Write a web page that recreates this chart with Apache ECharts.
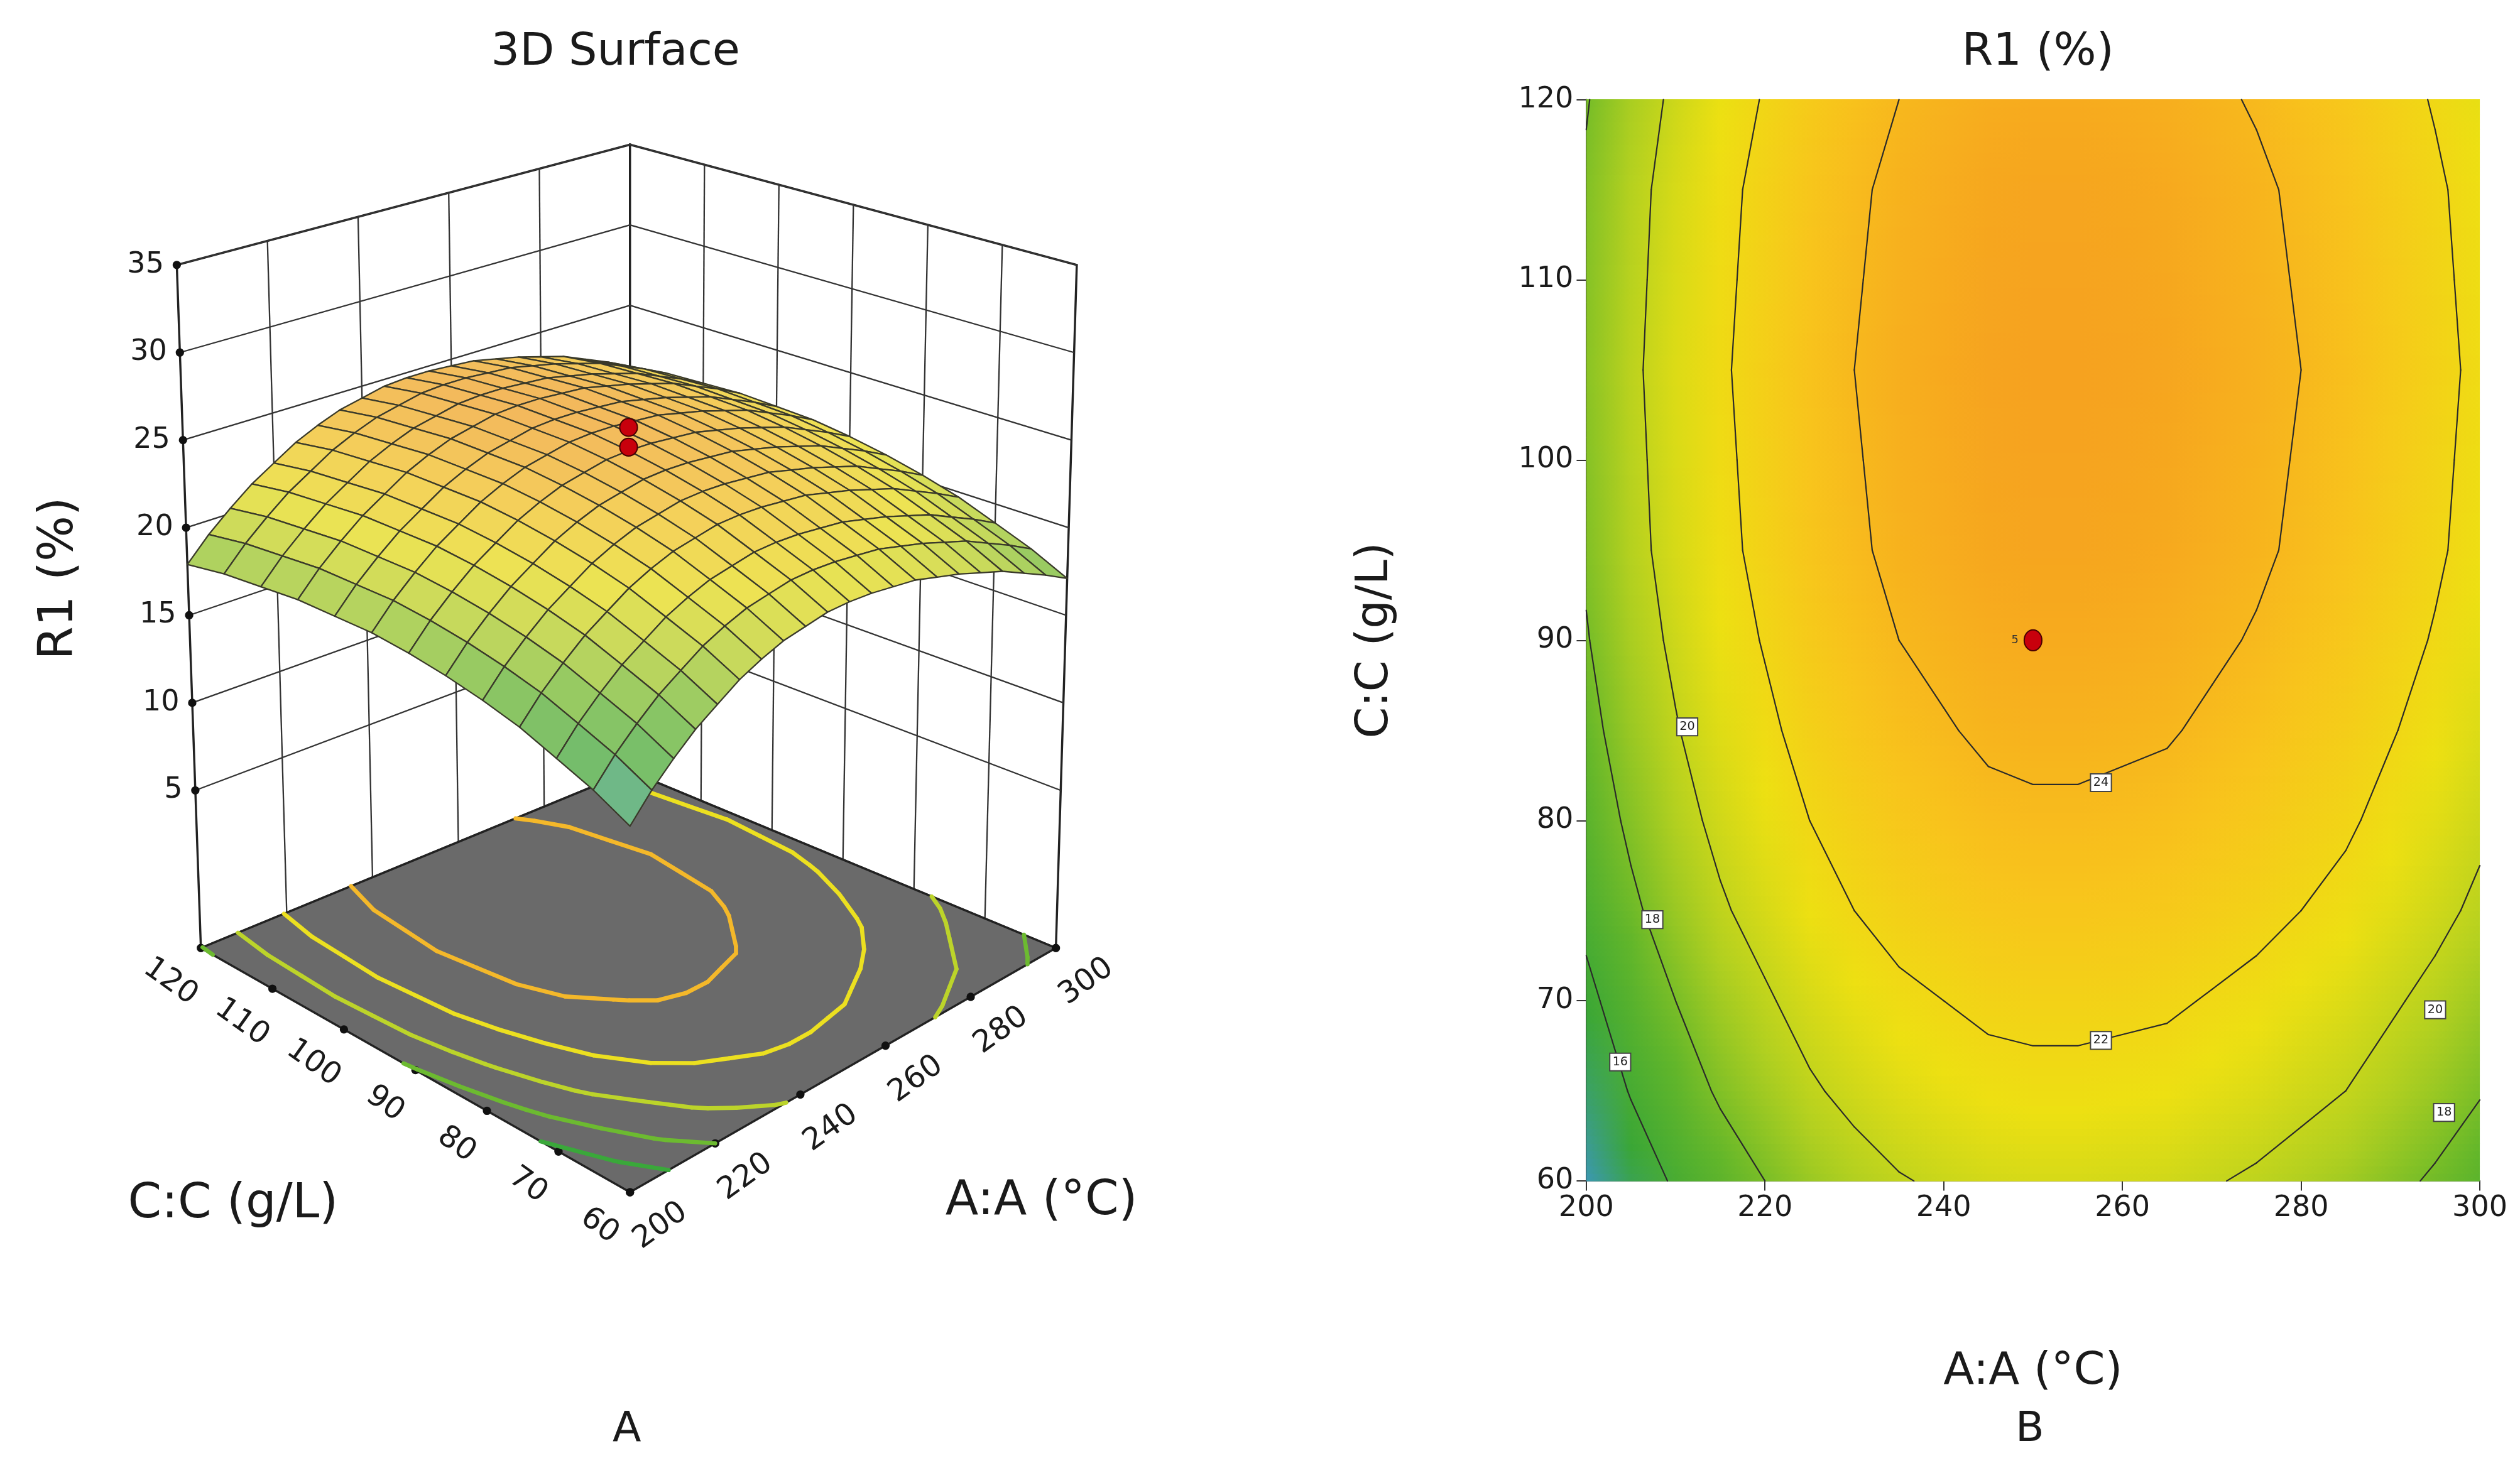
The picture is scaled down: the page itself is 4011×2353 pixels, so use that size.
<!DOCTYPE html><html><head><meta charset="utf-8">
<script src="https://cdn.jsdelivr.net/npm/echarts@6/dist/echarts.min.js"></script>
<style>html,body{margin:0;background:#fff}#c{width:4011px;height:2353px}</style></head>
<body><div id="c"></div><script>
// ---- data ----
const A_VALUES=[200,205,210,215,220,225,230,235,240,245,250,255,260,265,270,275,280,285,290,295,300];
const C_VALUES=[60,65,70,75,80,85,90,95,100,105,110,115,120];
const R1_ROWS=[
[13.8,15.1,16.2,17.2,18.0,18.8,19.4,19.9,20.2,20.5,20.6,20.6,20.5,20.4,20.1,19.8,19.4,19.0,18.4,17.8,17.1],
[14.8,16.1,17.2,18.2,19.0,19.8,20.4,20.9,21.2,21.5,21.6,21.6,21.5,21.4,21.1,20.8,20.4,20.0,19.4,18.8,18.1],
[15.6,16.9,18.0,19.0,19.8,20.6,21.2,21.7,22.0,22.3,22.4,22.4,22.3,22.2,21.9,21.6,21.2,20.8,20.2,19.6,18.9],
[16.4,17.7,18.8,19.8,20.6,21.4,22.0,22.5,22.8,23.1,23.2,23.2,23.1,23.0,22.7,22.4,22.0,21.6,21.0,20.4,19.7],
[17.0,18.3,19.4,20.4,21.2,22.0,22.6,23.1,23.4,23.7,23.8,23.8,23.7,23.6,23.3,23.0,22.6,22.2,21.6,21.0,20.3],
[17.5,18.8,19.9,20.9,21.7,22.5,23.1,23.6,23.9,24.2,24.3,24.3,24.2,24.1,23.8,23.5,23.1,22.7,22.1,21.5,20.8],
[17.9,19.2,20.3,21.3,22.1,22.9,23.5,24.0,24.3,24.6,24.7,24.7,24.6,24.5,24.2,23.9,23.5,23.1,22.5,21.9,21.2],
[18.2,19.5,20.6,21.6,22.4,23.2,23.8,24.3,24.6,24.9,25.0,25.0,24.9,24.8,24.5,24.2,23.8,23.4,22.8,22.2,21.5],
[18.3,19.6,20.7,21.7,22.5,23.3,23.9,24.4,24.7,25.0,25.1,25.1,25.0,24.9,24.6,24.3,23.9,23.5,22.9,22.3,21.6],
[18.4,19.7,20.8,21.8,22.6,23.4,24.0,24.5,24.8,25.1,25.2,25.2,25.1,25.0,24.7,24.4,24.0,23.6,23.0,22.4,21.7],
[18.3,19.6,20.7,21.7,22.5,23.3,23.9,24.4,24.7,25.0,25.1,25.1,25.0,24.9,24.6,24.3,23.9,23.5,22.9,22.3,21.6],
[18.2,19.5,20.6,21.6,22.4,23.2,23.8,24.3,24.6,24.9,25.0,25.0,24.9,24.8,24.5,24.2,23.8,23.4,22.8,22.2,21.5],
[17.9,19.2,20.3,21.3,22.1,22.9,23.5,24.0,24.3,24.6,24.7,24.7,24.6,24.5,24.2,23.9,23.5,23.1,22.5,21.9,21.2]];
const CONTOUR_LEVELS=[16,18,20,22,24];
const CONTOUR_LABELS=[[203.8,66.6,16],[207.4,74.5,18],[211.3,85.2,20],[257.6,82.1,24],[257.6,67.8,22],[295,69.5,20],[296,63.8,18]];
const DESIGN_POINT=[[250,90,5]];
const DESIGN_3D=[[250,90,26.0],[250,90,24.9]];
const Z_TICKS=[5,10,15,20,25,30,35];
const C_TICKS=[60,70,80,90,100,110,120];
const A_TICKS=[200,220,240,260,280,300];

// ---- rendering helpers ----
const k=4011/1568;
const FONT='DejaVu Sans';
const COLOR_STOPS=['#3b95c8','#3aa636','#62b62a','#b2d020','#ede012','#f8c41c','#f6a01f'];
const VMIN=13.5,VMAX=25.3;
function cmapRGB(z){const t=Math.max(0,Math.min(1,(z-VMIN)/(VMAX-VMIN)))*(COLOR_STOPS.length-1);
  const i=Math.min(COLOR_STOPS.length-2,Math.floor(t));const f=t-i;
  const a=echarts.color.parse(COLOR_STOPS[i]),b=echarts.color.parse(COLOR_STOPS[i+1]);
  return [0,1,2].map(j=>a[j]+(b[j]-a[j])*f);}
function rgb(c){return 'rgb('+c.map(v=>Math.round(Math.max(0,Math.min(255,v)))).join(',')+')';}
function cmap(z){return rgb(cmapRGB(z));}
const CORN={F:[392,742,12.8,0],R:[657,590,10.9,13/39],L:[125,590,10.9,-15/39],B:[392,480,10,0]};
const ZF=-4;
function P(a,c,z){const u=(a-200)/100,v=(c-60)/60;
  const w={F:(1-u)*(1-v),R:u*(1-v),L:(1-u)*v,B:u*v};
  let x=0,y=0,s=0,lx=0;for(const key in w){const q=CORN[key];x+=w[key]*q[0];y+=w[key]*q[1];s+=w[key]*q[2];lx+=w[key]*q[3];}
  const h=z-ZF;return [(x+lx*h)*k,(y-s*h)*k];}
function R(i,j){return R1_ROWS[j][i];}
function contourSegments(level){const segs=[];
  for(let j=0;j<C_VALUES.length-1;j++)for(let i=0;i<A_VALUES.length-1;i++){
    const pts=[[i,j],[i+1,j],[i+1,j+1],[i,j+1]];const cross=[];
    for(let e=0;e<4;e++){const p=pts[e],q=pts[(e+1)%4];const v1=R(p[0],p[1]),v2=R(q[0],q[1]);
      if((v1<level)!==(v2<level)){const f=(level-v1)/(v2-v1);
        cross.push([A_VALUES[p[0]]+(A_VALUES[q[0]]-A_VALUES[p[0]])*f,C_VALUES[p[1]]+(C_VALUES[q[1]]-C_VALUES[p[1]])*f]);}}
    if(cross.length===2)segs.push([cross[0][0],cross[0][1],cross[1][0],cross[1][1],level]);
    if(cross.length===4){segs.push([...cross[0],...cross[1],level]);segs.push([...cross[2],...cross[3],level]);}
  }return segs;}
let ALL_SEGS=[];CONTOUR_LEVELS.forEach(l=>ALL_SEGS=ALL_SEGS.concat(contourSegments(l)));
const FLOOR_COLORS={16:'#3aa83a',18:'#6cba30',20:'#bcd42a',22:'#ece020',24:'#f4b82a'};

const quads=[];for(let j=0;j<C_VALUES.length-1;j++)for(let i=0;i<A_VALUES.length-1;i++)quads.push([i,j]);
quads.sort((p,q)=>(q[0]/20+q[1]/12)-(p[0]/20+p[1]/12));
const SUB=12;const strips=[];for(let j=0;j<C_VALUES.length-1;j++)for(let f=0;f<SUB;f++)strips.push([j,f]);

// ---- static 3D frame as graphic ----
const G=[];const LC='#333';
function line(p1,p2,w,z){G.push({type:'line',z:z||1,shape:{x1:p1[0],y1:p1[1],x2:p2[0],y2:p2[1]},style:{stroke:LC,lineWidth:(w||1)*k*0.9}});}
function poly(ps,fill,z){G.push({type:'polygon',z:z||1,shape:{points:ps},style:{fill:fill,stroke:'#222',lineWidth:1.5*k*0.9}});}
const ZT=35;
poly([P(200,120,ZF),P(300,120,ZF),P(300,120,ZT),P(200,120,ZT)],'#fff',0);
poly([P(300,120,ZF),P(300,60,ZF),P(300,60,ZT),P(300,120,ZT)],'#fff',0);
Z_TICKS.forEach(z=>{line(P(200,120,z),P(300,120,z));line(P(300,120,z),P(300,60,z));});
[220,240,260,280].forEach(a=>line(P(a,120,ZF),P(a,120,ZT)));
[70,80,90,100,110].forEach(c=>line(P(300,c,ZF),P(300,c,ZT)));
poly([P(200,60,ZF),P(300,60,ZF),P(300,120,ZF),P(200,120,ZF)],'#6a6a6a',1);
function dot(p){G.push({type:'circle',z:2,shape:{cx:p[0],cy:p[1],r:2.6*k},style:{fill:'#111'}});}
function txt(p,s,size,opt){G.push(Object.assign({type:'text',z:3,x:p[0],y:p[1],style:{text:s,font:size*k+'px '+FONT,fill:'#1a1a1a',align:'center',verticalAlign:'middle'}},opt||{}));}
Z_TICKS.forEach(z=>{const p=P(200,120,z);dot(p);txt([p[0]-8*k,p[1]],String(z),18,{style:{text:String(z),font:18*k+'px '+FONT,fill:'#1a1a1a',align:'right',verticalAlign:'middle'}});});
C_TICKS.forEach(c=>{const p=P(200,c,ZF);dot(p);txt([p[0]-19*k,p[1]+21*k],String(c),19,{rotation:-0.62});});
A_TICKS.forEach(a=>{const p=P(a,60,ZF);dot(p);txt([p[0]+19*k,p[1]+21*k],String(a),19,{rotation:0.62});});
dot(P(300,120,ZF));
txt([383*k,33*k],'3D Surface',28);
txt([37*k,360*k],'R1 (%)',30,{rotation:Math.PI/2});
txt([145*k,750*k],'C:C (g/L)',30);
txt([648*k,748*k],'A:A (°C)',30);
txt([390*k,890*k],'A',26);
txt([1263*k,890*k],'B',26);
txt([1268*k,33*k],'R1 (%)',28);

const chart=echarts.init(document.getElementById('c'),null,{renderer:'canvas'});
chart.setOption({
  backgroundColor:'#fff',animation:false,
  graphic:{elements:G},
  grid:{left:987*k,top:62*k,width:556*k,height:673*k,containLabel:false},
  xAxis:{type:'value',min:200,max:300,interval:20,name:'A:A (°C)',nameLocation:'middle',nameGap:105*k,
    nameTextStyle:{fontSize:28*k,fontFamily:FONT,color:'#1a1a1a'},
    axisLine:{lineStyle:{color:'#333',width:2}},axisTick:{length:6*k,lineStyle:{color:'#333',width:2}},
    axisLabel:{fontSize:18*k,fontFamily:FONT,color:'#1a1a1a',margin:8*k},splitLine:{show:false}},
  yAxis:{type:'value',min:60,max:120,interval:10,name:'C:C (g/L)',nameLocation:'middle',nameGap:117*k,
    nameTextStyle:{fontSize:28*k,fontFamily:FONT,color:'#1a1a1a'},
    axisLine:{show:true,lineStyle:{color:'#333',width:2}},axisTick:{show:true,length:6*k,lineStyle:{color:'#333',width:2}},
    axisLabel:{fontSize:18*k,fontFamily:FONT,color:'#1a1a1a',margin:8*k},splitLine:{show:false}},
  series:[
    {type:'custom',coordinateSystem:'cartesian2d',data:strips,z:1,silent:true,
     renderItem:(p,api)=>{const j=api.value(0),f=api.value(1);
       const c0=C_VALUES[j]+(C_VALUES[j+1]-C_VALUES[j])*f/SUB,c1=C_VALUES[j]+(C_VALUES[j+1]-C_VALUES[j])*(f+1)/SUB;
       const fm=(f+0.5)/SUB;
       const p1=api.coord([200,c1]),p2=api.coord([300,c0]);
       const stops=A_VALUES.map((a,i)=>({offset:i/(A_VALUES.length-1),color:cmap(R(i,j)*(1-fm)+R(i,j+1)*fm)}));
       return {type:'rect',shape:{x:p1[0],y:p1[1]-0.5,width:p2[0]-p1[0],height:p2[1]-p1[1]+1},
         style:{fill:new echarts.graphic.LinearGradient(0,0,1,0,stops)}};}},
    {type:'custom',coordinateSystem:'cartesian2d',data:ALL_SEGS,encode:{x:[0,2],y:[1,3]},z:3,
     renderItem:(p,api)=>{const a=api.coord([api.value(0),api.value(1)]),b=api.coord([api.value(2),api.value(3)]);
       return {type:'line',shape:{x1:a[0],y1:a[1],x2:b[0],y2:b[1]},style:{stroke:'#2a2a2a',lineWidth:2.2,lineCap:'round'}};}},
    {type:'custom',coordinateSystem:'cartesian2d',data:CONTOUR_LABELS,encode:{x:0,y:1},z:4,
     renderItem:(p,api)=>{const c=api.coord([api.value(0),api.value(1)]);const w=13*k,h=11*k;
       return {type:'group',children:[{type:'rect',shape:{x:c[0]-w/2,y:c[1]-h/2,width:w,height:h},style:{fill:'#fff',stroke:'#444',lineWidth:2}},
        {type:'text',x:c[0],y:c[1],style:{text:String(api.value(2)),font:7.5*k+'px '+FONT,fill:'#222',align:'center',verticalAlign:'middle'}}]};}},
    {type:'custom',coordinateSystem:'cartesian2d',data:DESIGN_POINT,encode:{x:0,y:1},z:5,
     renderItem:(p,api)=>{const c=api.coord([api.value(0),api.value(1)]);
       return {type:'group',children:[{type:'ellipse',shape:{cx:c[0],cy:c[1],rx:5.5*k,ry:6.5*k},style:{fill:'#c8000c',stroke:'#4a0000',lineWidth:2}},
        {type:'text',x:c[0]-9*k,y:c[1],style:{text:String(api.value(2)),font:7*k+'px '+FONT,fill:'#333',align:'right',verticalAlign:'middle'}}]};}},
    {type:'custom',coordinateSystem:'none',data:ALL_SEGS,z:3,
     renderItem:(p,api)=>{const a=P(api.value(0),api.value(1),ZF),b=P(api.value(2),api.value(3),ZF);
       return {type:'line',shape:{x1:a[0],y1:a[1],x2:b[0],y2:b[1]},style:{stroke:FLOOR_COLORS[api.value(4)],lineWidth:2.6*k,lineCap:'round'}};}},
    {type:'custom',coordinateSystem:'none',data:quads,z:6,
     renderItem:(p,api)=>{const i=api.value(0),j=api.value(1);
       const cs=[[i,j],[i+1,j],[i+1,j+1],[i,j+1]];
       const pts=cs.map(q=>P(A_VALUES[q[0]],C_VALUES[q[1]],R(q[0],q[1])));
       const zm=(R(i,j)+R(i+1,j)+R(i+1,j+1)+R(i,j+1))/4;
       const c=cmapRGB(zm).map(v=>v*0.7+255*0.3-6);
       return {type:'polygon',shape:{points:pts},style:{fill:rgb(c),stroke:'#3a3a2a',lineWidth:0.9*k,lineJoin:'round'}};}},
    {type:'custom',coordinateSystem:'none',data:DESIGN_3D,z:7,
     renderItem:(p,api)=>{const c=P(api.value(0),api.value(1),api.value(2));
       return {type:'ellipse',shape:{cx:c[0],cy:c[1],rx:5.5*k,ry:5.5*k},style:{fill:'#c8000c',stroke:'#4a0000',lineWidth:2}};}}
  ]
});
</script></body></html>
